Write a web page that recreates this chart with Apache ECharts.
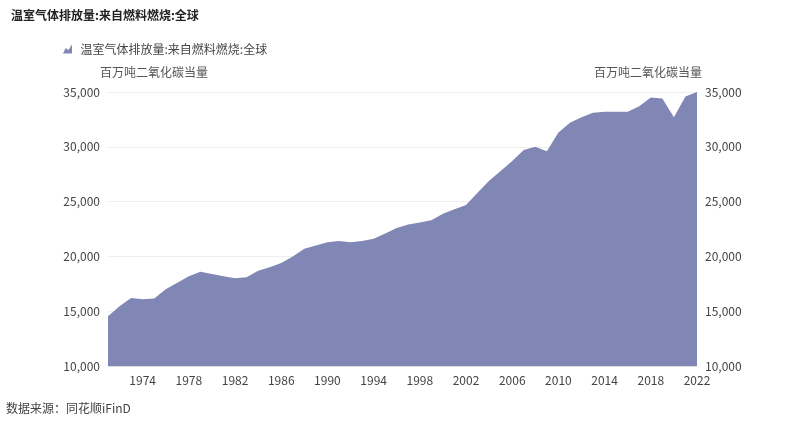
<!DOCTYPE html>
<html><head><meta charset="utf-8">
<script src="https://cdn.jsdelivr.net/npm/echarts@6/dist/echarts.min.js"></script>
<style>body{margin:0}#c{width:808px;height:430px}</style></head>
<body><div id="c"></div>
<script>
const years = [];
for (let y = 1971; y <= 2022; y++) years.push(String(y));
const emissions = [14550,15450,16200,16100,16150,17000,17600,18200,18600,18400,18200,18000,18100,18700,19000,19400,20000,20700,21000,21300,21400,21300,21400,21600,22100,22600,22900,23100,23300,23900,24300,24700,25800,26900,27800,28700,29700,30000,29600,31300,32200,32700,33100,33200,33200,33200,33700,34500,34400,32700,34600,35000];
const seriesName = '温室气体排放量:来自燃料燃烧:全球';
const unit = '百万吨二氧化碳当量';
const font = 'Noto Sans CJK SC';
const chart = echarts.init(document.getElementById('c'));
const yAxisBase = {
  type: 'value', min: 10000, max: 35000, interval: 5000, name: unit, nameGap: 14,
  axisLabel: {color: '#444', fontSize: 12, fontFamily: font},
  splitLine: {lineStyle: {color: '#eee'}}, axisLine: {show: false}, axisTick: {show: false}
};
chart.setOption({
  textStyle: {fontFamily: font},
  title: {text: seriesName, left: 6, top: 4, textStyle: {fontSize: 12, fontWeight: 'bold', color: '#222', fontFamily: font}},
  legend: {left: 58, top: 38, itemWidth: 16, itemHeight: 9, textStyle: {fontSize: 12, color: '#444', fontFamily: font}, data: [{name: seriesName, icon: 'path://M0,10 L3,4 L6,6 L10,0 L10,10 Z'}]},
  grid: {left: 108, right: 111, top: 92, bottom: 64},
  xAxis: {type: 'category', data: years, boundaryGap: false,
    axisLabel: {interval: (i, v) => (Number(v) - 1974) % 4 === 0, color: '#444', fontSize: 12, fontFamily: font},
    axisTick: {show: false}, axisLine: {lineStyle: {color: '#ddd'}}},
  yAxis: [Object.assign({}, yAxisBase, {nameTextStyle: {color: '#555', fontSize: 12, fontFamily: font, align: 'left', padding: [0, 0, 0, -8]}}),
          Object.assign({}, yAxisBase, {position: 'right', splitLine: {show: false}, nameTextStyle: {color: '#555', fontSize: 12, fontFamily: font, align: 'right', padding: [0, -5, 0, 0]}})],
  series: [
    {name: seriesName, type: 'line', data: emissions, symbol: 'none', lineStyle: {width: 0}, itemStyle: {color: '#8187b5'}, areaStyle: {color: '#8187b5', opacity: 1}},
    {type: 'line', yAxisIndex: 1, data: [], symbol: 'none'}
  ],
  graphic: [{type: 'text', left: 6, top: 402, style: {text: '数据来源：同花顺iFinD', fontSize: 12, fill: '#444', fontFamily: font}}]
});
</script></body></html>
